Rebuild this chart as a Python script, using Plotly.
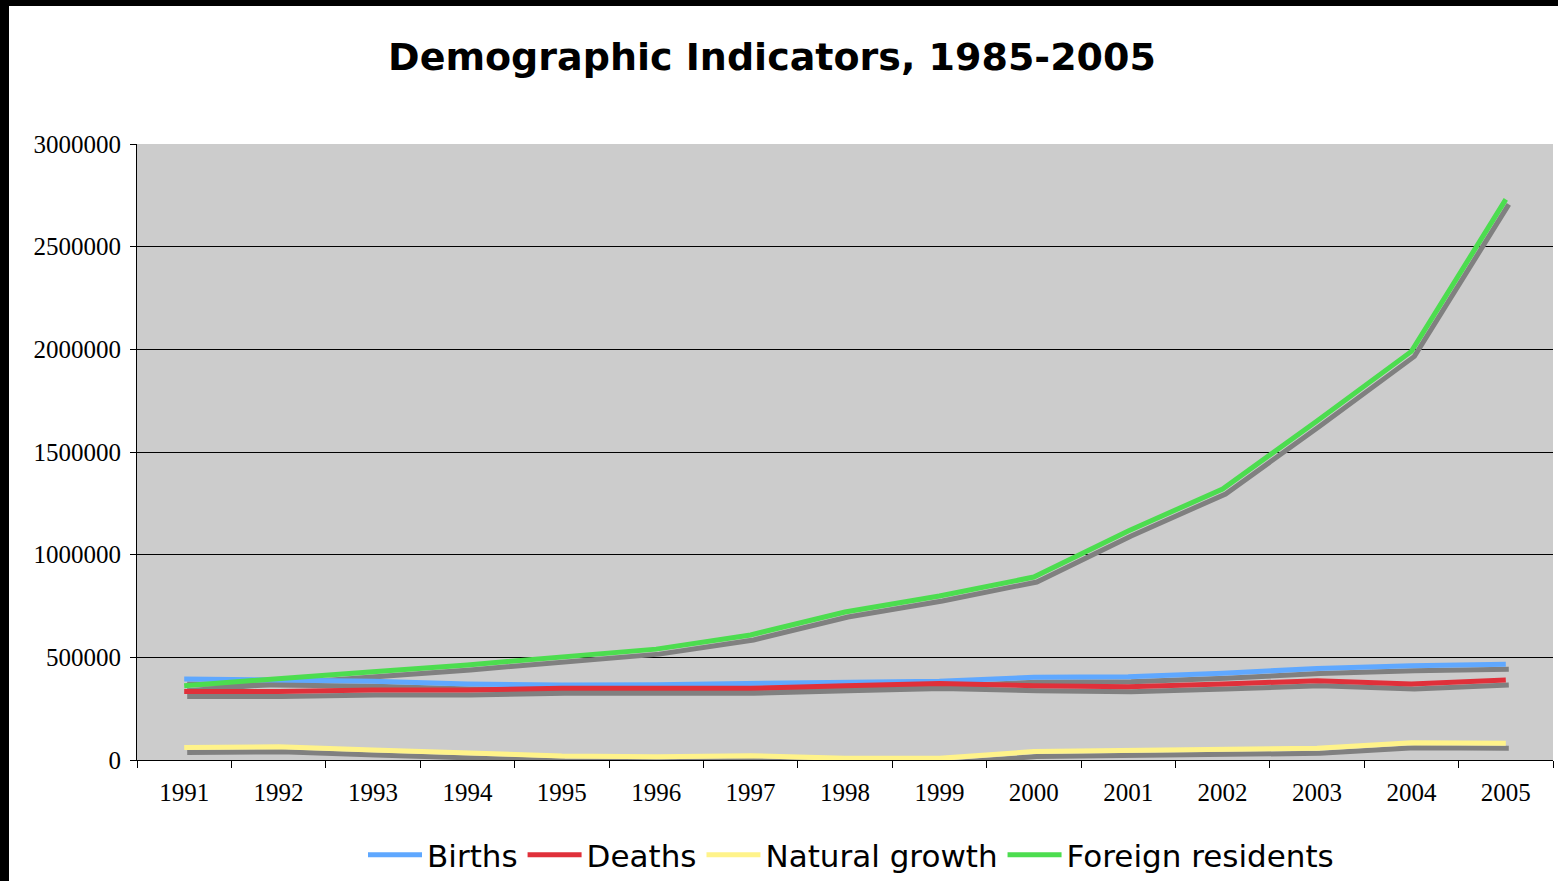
import plotly.graph_objects as go

years = ["1991", "1992", "1993", "1994", "1995", "1996", "1997", "1998",
         "1999", "2000", "2001", "2002", "2003", "2004", "2005"]
births = [395000, 388000, 384000, 370000, 365000, 367000, 372000, 376000,
          384000, 403000, 406000, 422000, 446000, 459000, 466000]
deaths = [333000, 333000, 341000, 341000, 349000, 350000, 349000, 361000,
          373000, 362000, 357000, 370000, 386000, 370000, 390000]
natural_growth = [61000, 64000, 49000, 34000, 20000, 16000, 21000, 8000,
                  8000, 41000, 45000, 52000, 57000, 84000, 81000]
foreign_residents = [362000, 398000, 430000, 463000, 500000, 540000, 609000, 721000,
                     799000, 891000, 1115000, 1320000, 1651000, 1990000, 2730000]

series = [
    ("Births", births, "#5FA8FF"),
    ("Deaths", deaths, "#E0303A"),
    ("Natural growth", natural_growth, "#FFF38A"),
    ("Foreign residents", foreign_residents, "#4CDD4F"),
]

W, H = 1558, 881
ML, MR, MT, MB = 137, 5, 144, 121
plot_w = W - ML - MR
plot_h = H - MT - MB
YMAX = 3000000
n = len(years)

# shadow offsets (pixels -> axis units)
dx_px, dy_px = 3, 5
dx = dx_px * n / plot_w
dy = dy_px * YMAX / plot_h

fig = go.Figure()

# invisible trace to establish category axis on main axes
fig.add_trace(go.Scatter(x=years, y=births, mode="lines", line=dict(width=0),
                         opacity=0, showlegend=False, hoverinfo="skip"))

for name, vals, col in series:
    fig.add_trace(go.Scatter(x=years, y=vals, mode="lines", xaxis="x2", yaxis="y2",
                             line=dict(color="#808080", width=5),
                             showlegend=False, hoverinfo="skip"))
for name, vals, col in series:
    fig.add_trace(go.Scatter(x=years, y=vals, mode="lines", xaxis="x3", yaxis="y3",
                             name=name, line=dict(color=col, width=5)))

base_x = dict(type="category", categoryorder="array", categoryarray=years,
              range=[-0.5, n - 0.5])
fig.update_layout(
    width=W, height=H,
    margin=dict(l=ML, r=MR, t=MT, b=MB, autoexpand=False),
    paper_bgcolor="white",
    plot_bgcolor="#CCCCCC",
    title=dict(text="<b>Demographic Indicators, 1985-2005</b>",
               x=772 / W, xanchor="center", y=1 - 57 / H, yanchor="middle",
               font=dict(family="DejaVu Sans", size=38, color="black")),
    xaxis=dict(**base_x, tickson="boundaries", ticks="outside", ticklen=7,
               tickcolor="black", showline=True, linecolor="black", linewidth=1,
               showgrid=False, zeroline=False, ticklabelstandoff=10,
               tickfont=dict(family="Liberation Serif", size=25, color="black")),
    yaxis=dict(range=[0, YMAX], dtick=500000, tickformat="d", ticks="outside",
               ticklen=6, tickcolor="black", showline=True, linecolor="black",
               linewidth=1, showgrid=True, gridcolor="black", gridwidth=1,
               zeroline=False, ticklabelstandoff=4,
               tickfont=dict(family="Liberation Serif", size=25, color="black")),
    xaxis2=dict(type="category", categoryorder="array", categoryarray=years,
                range=[-0.5 - dx, n - 0.5 - dx], overlaying="x", visible=False),
    yaxis2=dict(range=[dy, YMAX + dy], overlaying="y", visible=False),
    xaxis3=dict(type="category", categoryorder="array", categoryarray=years,
                range=[-0.5, n - 0.5], overlaying="x", visible=False),
    yaxis3=dict(range=[0, YMAX], overlaying="y", visible=False),
    legend=dict(orientation="h", x=(851 - ML) / plot_w, xanchor="center",
                y=-(855 - (H - MB)) / plot_h, yanchor="middle",
                font=dict(family="DejaVu Sans", size=31, color="black"),
                bgcolor="rgba(0,0,0,0)", itemwidth=54, tracegroupgap=0),
    showlegend=True,
    shapes=[
        dict(type="rect", xref="paper", yref="paper",
             x0=(0 - ML) / plot_w, x1=(9 - ML) / plot_w,
             y0=(H - MB - H) / plot_h, y1=(H - MB) / plot_h,
             fillcolor="black", line=dict(width=0), layer="above"),
        dict(type="rect", xref="paper", yref="paper",
             x0=(0 - ML) / plot_w, x1=(W - ML) / plot_w,
             y0=(H - MB - 6) / plot_h, y1=(H - MB) / plot_h,
             fillcolor="black", line=dict(width=0), layer="above"),
    ],
)

fig.write_html("out.html", config={"displayModeBar": False},
               post_script="document.body.style.margin='0';document.body.style.overflow='hidden';")
